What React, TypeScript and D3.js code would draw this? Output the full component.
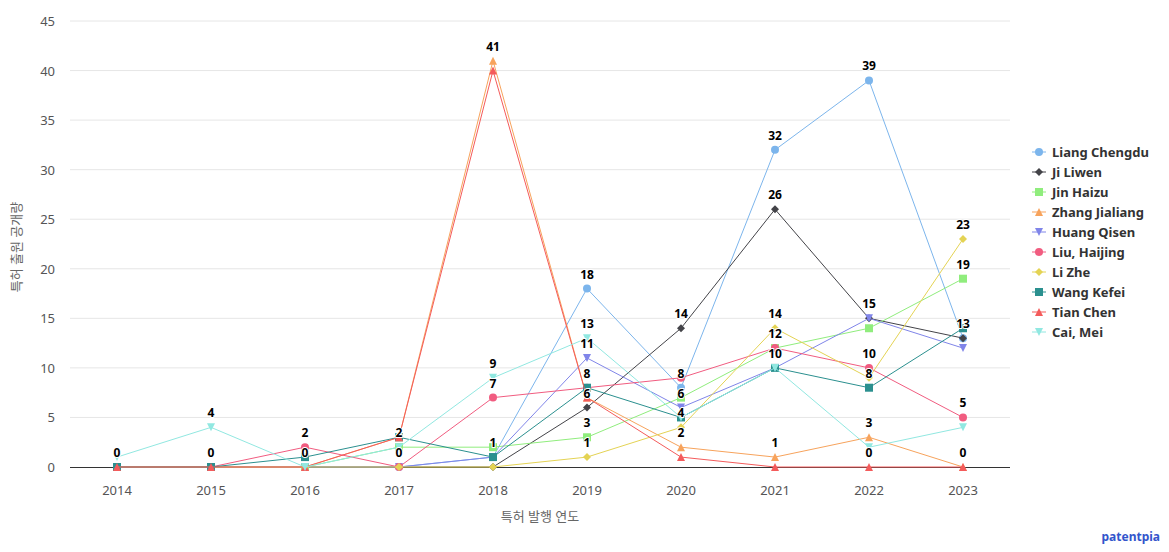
import React from "react";
import * as d3 from "d3";

const years = ["2014", "2015", "2016", "2017", "2018", "2019", "2020", "2021", "2022", "2023"];
const seriesNames = ["Liang Chengdu", "Ji Liwen", "Jin Haizu", "Zhang Jialiang", "Huang Qisen", "Liu, Haijing", "Li Zhe", "Wang Kefei", "Tian Chen", "Cai, Mei"];
const liangChengdu = [0, 0, 0, 0, 1, 18, 8, 32, 39, 13];
const jiLiwen = [0, 0, 0, 0, 0, 6, 14, 26, 15, 13];
const jinHaizu = [0, 0, 0, 2, 2, 3, 7, 12, 14, 19];
const zhangJialiang = [0, 0, 0, 3, 41, 7, 2, 1, 3, 0];
const huangQisen = [0, 0, 0, 0, 1, 11, 6, 10, 15, 12];
const liuHaijing = [0, 0, 2, 0, 7, 8, 9, 12, 10, 5];
const liZhe = [0, 0, 0, 0, 0, 1, 4, 14, 9, 23];
const wangKefei = [0, 0, 1, 3, 1, 8, 5, 10, 8, 14];
const tianChen = [0, 0, 0, 3, 40, 7, 1, 0, 0, 0];
const caiMei = [1, 4, 0, 2, 9, 13, 5, 10, 2, 4];
const yTicks = [0, 5, 10, 15, 20, 25, 30, 35, 40, 45];

const seriesValues = [liangChengdu, jiLiwen, jinHaizu, zhangJialiang, huangQisen, liuHaijing, liZhe, wangKefei, tianChen, caiMei];
const colors = ["#7cb5ec", "#434348", "#90ed7d", "#f7a35c", "#8085e9", "#f15c80", "#e4d354", "#2b908f", "#f45b5b", "#91e8e1"];
const symbols = ["circle", "diamond", "square", "triangle", "triangle-down", "circle", "diamond", "square", "triangle", "triangle-down"];

const W = 1169;
const H = 552;
const margin = { left: 70, right: 159, top: 21, bottom: 85 };
const font = "'Noto Sans', 'Noto Sans CJK KR', sans-serif";

function Marker({ type, x, y, color }) {
  const r = 4;
  if (type === "circle") return <circle cx={x} cy={y} r={r} fill={color} />;
  if (type === "square") return <rect x={x - r} y={y - r} width={2 * r} height={2 * r} fill={color} />;
  let pts;
  if (type === "diamond") pts = [[0, -r], [r, 0], [0, r], [-r, 0]];
  else if (type === "triangle") pts = [[0, -r], [r, r], [-r, r]];
  else pts = [[-r, -r], [r, -r], [0, r]];
  return <path d={"M" + pts.map((p) => `${x + p[0]},${y + p[1]}`).join("L") + "Z"} fill={color} />;
}

export default function App() {
  const x = d3
    .scaleBand()
    .domain(years)
    .range([margin.left, W - margin.right]);
  const y = d3.scaleLinear().domain([0, 45]).range([H - margin.bottom, margin.top]);
  const cx = (yr) => x(yr) + x.bandwidth() / 2;

  const line = d3
    .line()
    .x((d) => cx(d[0]))
    .y((d) => y(d[1]));

  // data labels, hidden when they overlap an earlier one (series order wins)
  const labels = [];
  const shown = [];
  seriesValues.forEach((vals, si) => {
    vals.forEach((v, i) => {
      const lx = cx(years[i]);
      const ly = y(v) - 10;
      const w = String(v).length * 7.5;
      const box = { x0: lx - w / 2, x1: lx + w / 2, y0: ly - 11, y1: ly + 3 };
      const hit = shown.some((b) => !(box.x1 < b.x0 || box.x0 > b.x1 || box.y1 < b.y0 || box.y0 > b.y1));
      if (!hit) {
        shown.push(box);
        labels.push({ key: `${si}-${i}`, x: lx, y: ly, text: String(v) });
      }
    });
  });

  return (
    <svg width={W} height={H} style={{ display: "block", position: "absolute", left: 0, top: 0 }} fontFamily={font}>
      <rect width={W} height={H} fill="#fff" />
      {yTicks.map((t) => (
        <g key={t}>
          {t > 0 && <line x1={margin.left} x2={W - margin.right} y1={y(t)} y2={y(t)} stroke="#e6e6e6" />}
          <text x={55} y={y(t) + 5} textAnchor="end" fontSize={13} fill="#555">
            {t}
          </text>
        </g>
      ))}
      <line x1={margin.left} x2={W - margin.right} y1={y(0) + 0.5} y2={y(0) + 0.5} stroke="#333" />
      {years.map((yr) => (
        <text key={yr} x={cx(yr)} y={495} textAnchor="middle" fontSize={13} fill="#555">
          {yr}
        </text>
      ))}
      <text x={540} y={521} textAnchor="middle" fontSize={13} fill="#666">
        특허 발행 연도
      </text>
      <text transform={`translate(21,247) rotate(-90)`} textAnchor="middle" fontSize={13} fill="#666">
        특허 출원 공개량
      </text>

      {seriesValues.map((vals, si) => (
        <g key={seriesNames[si]}>
          <path d={line(vals.map((v, i) => [years[i], v]))} fill="none" stroke={colors[si]} strokeWidth={1} />
          {vals.map((v, i) => (
            <Marker key={i} type={symbols[si]} x={cx(years[i])} y={y(v)} color={colors[si]} />
          ))}
        </g>
      ))}

      {labels.map((l) => (
        <text
          key={l.key}
          x={l.x}
          y={l.y}
          textAnchor="middle"
          fontSize={12}
          fontWeight="bold"
          fill="#000"
          stroke="#fff"
          strokeWidth={2}
          paintOrder="stroke"
          strokeLinejoin="round"
        >
          {l.text}
        </text>
      ))}

      {seriesNames.map((name, si) => {
        const ly = 152 + si * 20;
        return (
          <g key={name}>
            <line x1={1032} x2={1046} y1={ly} y2={ly} stroke={colors[si]} strokeWidth={1} />
            <Marker type={symbols[si]} x={1039} y={ly} color={colors[si]} />
            <text x={1052} y={ly + 5} fontSize={13} fontWeight="bold" fill="#333">
              {name}
            </text>
          </g>
        );
      })}

      <text x={1160} y={541} textAnchor="end" fontSize={12} fontWeight="bold" fill="#3355cc">
        patentpia
      </text>
    </svg>
  );
}
